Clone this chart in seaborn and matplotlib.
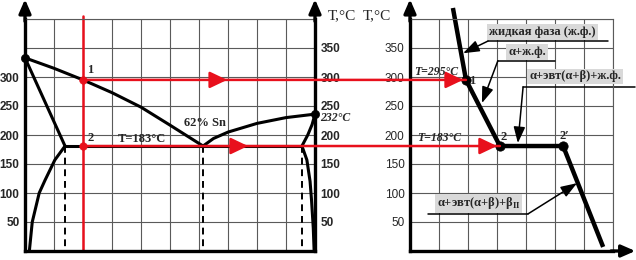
import matplotlib
matplotlib.use("Agg")
import matplotlib.pyplot as plt
from matplotlib.patches import ConnectionPatch
import numpy as np
import seaborn as sns

# ---------------- data ----------------
# phase diagram Pb-Sn (x: % Sn, y: T, °C)
liq_left_c = [0, 10, 20, 30, 40, 50, 61.4]
liq_left_T = [333, 315, 295, 273, 248, 217, 181]
liq_right_c = [61.4, 65, 70, 80, 90, 100]
liq_right_T = [181, 194, 205, 220, 230, 236]
sol_left_c = [0, 13.8]
sol_left_T = [333, 181]
eut_c = [13.8, 95.5]
eut_T = [181, 181]
solv_left_c = [13.8, 10.3, 6.9, 4.9, 2.5, 1.5]
solv_left_T = [181, 157, 122, 100, 50, 0]
sol_right_c = [95.5, 97.5, 99, 100]
sol_right_T = [181, 200, 218, 236]
solv_right_c = [95.5, 97.2, 98.3, 98.8, 99.4, 99.7]
solv_right_T = [181, 157, 120, 88, 40, 0]
dashed_c = [13.8, 61.4, 95.5]
alloy_c = 20
point_T = [295, 181]
melt_c = [0, 100]
melt_T = [333, 236]

# cooling curve (x: time, y: T)
cool_t = [1.48, 1.93, 3.10, 5.28, 6.66]
cool_T = [419, 295, 181, 181, 7]
cool_pts_t = [1.93, 3.10, 5.28]
cool_pts_T = [295, 181, 181]

left_ticks = [50, 100, 150, 200, 250, 300]
right_ticks = [50, 100, 150, 200, 250, 300, 350]

# ---------------- figure ----------------
sns.set_theme(style="white")
plt.rcParams['font.family'] = ['Liberation Sans', 'DejaVu Sans']
plt.rcParams['mathtext.fontset'] = 'custom'
plt.rcParams['mathtext.rm'] = 'Liberation Serif:bold'

W, H = 636, 260
fig = plt.figure(figsize=(W / 100, H / 100), dpi=100)
fig.patch.set_facecolor('white')


def rect(x0, x1, ytop, ybot):
    return [x0 / W, (H - ybot) / H, (x1 - x0) / W, (ybot - ytop) / H]


ax1 = fig.add_axes(rect(25, 315, 19, 251))
ax2 = fig.add_axes(rect(410, 613, 19, 251))

GRID = '#5a5a5a'
RED = '#e8101c'
SERIF = ['Liberation Serif', 'DejaVu Serif']

for ax, xmax, xstep in [(ax1, 100, 10), (ax2, 7, 1)]:
    ax.set_xlim(0, xmax)
    ax.set_ylim(0, 400)
    ax.set_xticks(np.arange(0, xmax + 0.01, xstep))
    ax.set_xticklabels([])
    ax.set_yticks(np.arange(0, 401, 50))
    ax.grid(True, color=GRID, lw=0.8)
    ax.tick_params(length=0)
    ax.set_facecolor('white')
    for s in ['top', 'right', 'left', 'bottom']:
        ax.spines[s].set_color(GRID)
        ax.spines[s].set_linewidth(0.8)
    ax.spines['left'].set_color('black')
    ax.spines['left'].set_linewidth(2.4)
    ax.spines['bottom'].set_color('black')
    ax.spines['bottom'].set_linewidth(2.4)
    ax.set_xlabel('')
    ax.set_ylabel('')

ax1.spines['right'].set_color('black')
ax1.spines['right'].set_linewidth(2.4)

# tick labels
ax1.set_yticklabels(['' if v not in left_ticks else str(v) for v in range(0, 401, 50)],
                    fontweight='bold', fontsize=8.5)
ax1.tick_params(axis='y', pad=4)
sec = ax1.secondary_yaxis('right')
sec.set_yticks(right_ticks)
sec.set_yticklabels([str(v) for v in right_ticks], fontweight='bold', fontsize=8.5)
sec.tick_params(length=0, pad=4)
sec.spines['right'].set_visible(False)

ax2.set_yticklabels(['' if v not in right_ticks else str(v) for v in range(0, 401, 50)],
                    fontsize=8.5)
ax2.tick_params(axis='y', pad=4)

# axis arrows
arrow_kw = dict(arrowstyle='-|>,head_length=0.55,head_width=0.24', color='black',
                lw=2.4, mutation_scale=15, shrinkA=0, shrinkB=0)
for ax, x in [(ax1, 0), (ax1, 1), (ax2, 0)]:
    ax.annotate('', xy=(x, 1.085), xytext=(x, 0.99), xycoords='axes fraction',
                arrowprops=arrow_kw, annotation_clip=False)
ax2.annotate('', xy=(1.11, 0), xytext=(0.99, 0), xycoords='axes fraction',
             arrowprops=arrow_kw, annotation_clip=False)

# ---------------- phase diagram ----------------
line_kw = dict(color='black', lw=2.2, sort=False, estimator=None, legend=False)
for cx, ty in [(liq_left_c, liq_left_T), (liq_right_c, liq_right_T),
               (sol_left_c, sol_left_T), (eut_c, eut_T),
               (solv_left_c, solv_left_T), (sol_right_c, sol_right_T),
               (solv_right_c, solv_right_T)]:
    sns.lineplot(x=cx, y=ty, ax=ax1, **line_kw)
for c in dashed_c:
    sns.lineplot(x=[c, c], y=[181, 0], ax=ax1, color='black', lw=1.4,
                 sort=False, estimator=None, legend=False, dashes=False)
    ax1.lines[-1].set_dashes([3.5, 2.5])
sns.scatterplot(x=melt_c, y=melt_T, ax=ax1, color='black', s=35, zorder=5,
                clip_on=False, legend=False, edgecolor='black')

# red alloy line
sns.lineplot(x=[alloy_c, alloy_c], y=[0, 405], ax=ax1, color=RED, lw=1.8,
             sort=False, estimator=None, legend=False)
ax1.lines[-1].set_clip_on(False)
sns.scatterplot(x=[alloy_c, alloy_c], y=point_T, ax=ax1, color=RED, s=30,
                zorder=6, legend=False, edgecolor=RED)

# red horizontal transfer lines and arrow heads
red_head = dict(arrowstyle='-|>,head_length=0.42,head_width=0.2', color=RED,
                lw=1.8, mutation_scale=25, shrinkA=0, shrinkB=0)
for T, tip1, tip2, endt in [(295, 69.7, 1.83, 1.93), (181, 76.9, 3.0, 3.10)]:
    con = ConnectionPatch(xyA=(alloy_c, T), coordsA=ax1.transData,
                          xyB=(endt, T), coordsB=ax2.transData,
                          color=RED, lw=1.8, zorder=4)
    fig.add_artist(con)
    ax1.annotate('', xy=(tip1, T), xytext=(tip1 - 6, T), arrowprops=red_head)
    ax2.annotate('', xy=(tip2, T), xytext=(tip2 - 0.6, T), arrowprops=red_head,
                 annotation_clip=False)

# texts left
ax1.text(21.4, 312, '1', fontfamily=SERIF, fontweight='bold', fontsize=9,
         ha='left', va='center')
ax1.text(21.7, 194, '2', fontfamily=SERIF, fontweight='bold', fontsize=9,
         ha='left', va='center')
ax1.text(40.3, 193, 'T=183°C', fontfamily=SERIF, fontweight='bold', fontsize=9,
         ha='center', va='center')
ax1.text(62, 221, '62% Sn', fontfamily=SERIF, fontweight='bold', fontsize=9,
         ha='center', va='center')
ax1.text(101.7, 229, '232°C', fontfamily=SERIF, fontweight='bold', style='italic',
         fontsize=8.5, ha='left', va='center')

fig.text(328 / W, 1 - 16 / H, 'T,°C', fontfamily=SERIF, fontsize=11,
         ha='left', va='center')
fig.text(363 / W, 1 - 16 / H, 'T,°C', fontfamily=SERIF, fontsize=11,
         ha='left', va='center')

# ---------------- cooling curve ----------------
sns.lineplot(x=cool_t, y=cool_T, ax=ax2, color='black', lw=3.2, sort=False,
             estimator=None, legend=False)
ax2.lines[-1].set_clip_on(False)
ax2.lines[-1].set_solid_capstyle('butt')
sns.scatterplot(x=cool_pts_t, y=cool_pts_T, ax=ax2, color='black', s=45,
                zorder=6, legend=False, edgecolor='black')

ax2.text(0.9, 309, 'T=295°C', fontfamily=SERIF, fontweight='bold', style='italic',
         fontsize=8.5, ha='center', va='center')
ax2.text(1.0, 195, 'T=183°C', fontfamily=SERIF, fontweight='bold', style='italic',
         fontsize=8.5, ha='center', va='center')
ax2.text(2.05, 293, '1', fontfamily=SERIF, fontweight='bold', fontsize=9,
         ha='left', va='center')
ax2.text(3.22, 197, '2', fontfamily=SERIF, fontweight='bold', fontsize=9,
         ha='center', va='center')
ax2.text(5.34, 199, '2′', fontfamily=SERIF, fontweight='bold', fontsize=9,
         ha='center', va='center')

box = dict(boxstyle='square,pad=0.15', fc='#d9d9d9', ec='none')
labels = [
    ('жидкая фаза (ж.ф.)', 4.57, 377, (2.69, 6.83, 362), (1.83, 341)),
    ('α+ж.ф.', 4.03, 343, (3.03, 5.00, 328), (2.48, 255)),
    ('α+эвт(α+β)+ж.ф.', 5.69, 301, (3.90, 7.75, 283), (3.72, 186)),
    ('α+эвт(α+β)+β$_{\\mathregular{II}}$', 2.36, 82, (0.62, 4.07, 64), (5.76, 117)),
]
lab_arrow = dict(arrowstyle='-|>,head_length=0.7,head_width=0.25', color='black',
                 lw=1.1, mutation_scale=14, shrinkA=0, shrinkB=0)
for text, tx, ty, (u0, u1, uy), (ax_t, ax_T) in labels:
    ax2.text(tx, ty, text, fontfamily=SERIF, fontweight='bold', fontsize=9,
             ha='center', va='center', bbox=box, zorder=7)
    sns.lineplot(x=[u0, u1], y=[uy, uy], ax=ax2, color='black', lw=1.1,
                 sort=False, estimator=None, legend=False)
    ax2.lines[-1].set_clip_on(False)
    start = u0 if ax_t < u1 - 0.5 else u1
    ax2.annotate('', xy=(ax_t, ax_T), xytext=(start, uy), arrowprops=lab_arrow,
                 annotation_clip=False, zorder=8)

fig.savefig('out.png', dpi=100, facecolor='white')
